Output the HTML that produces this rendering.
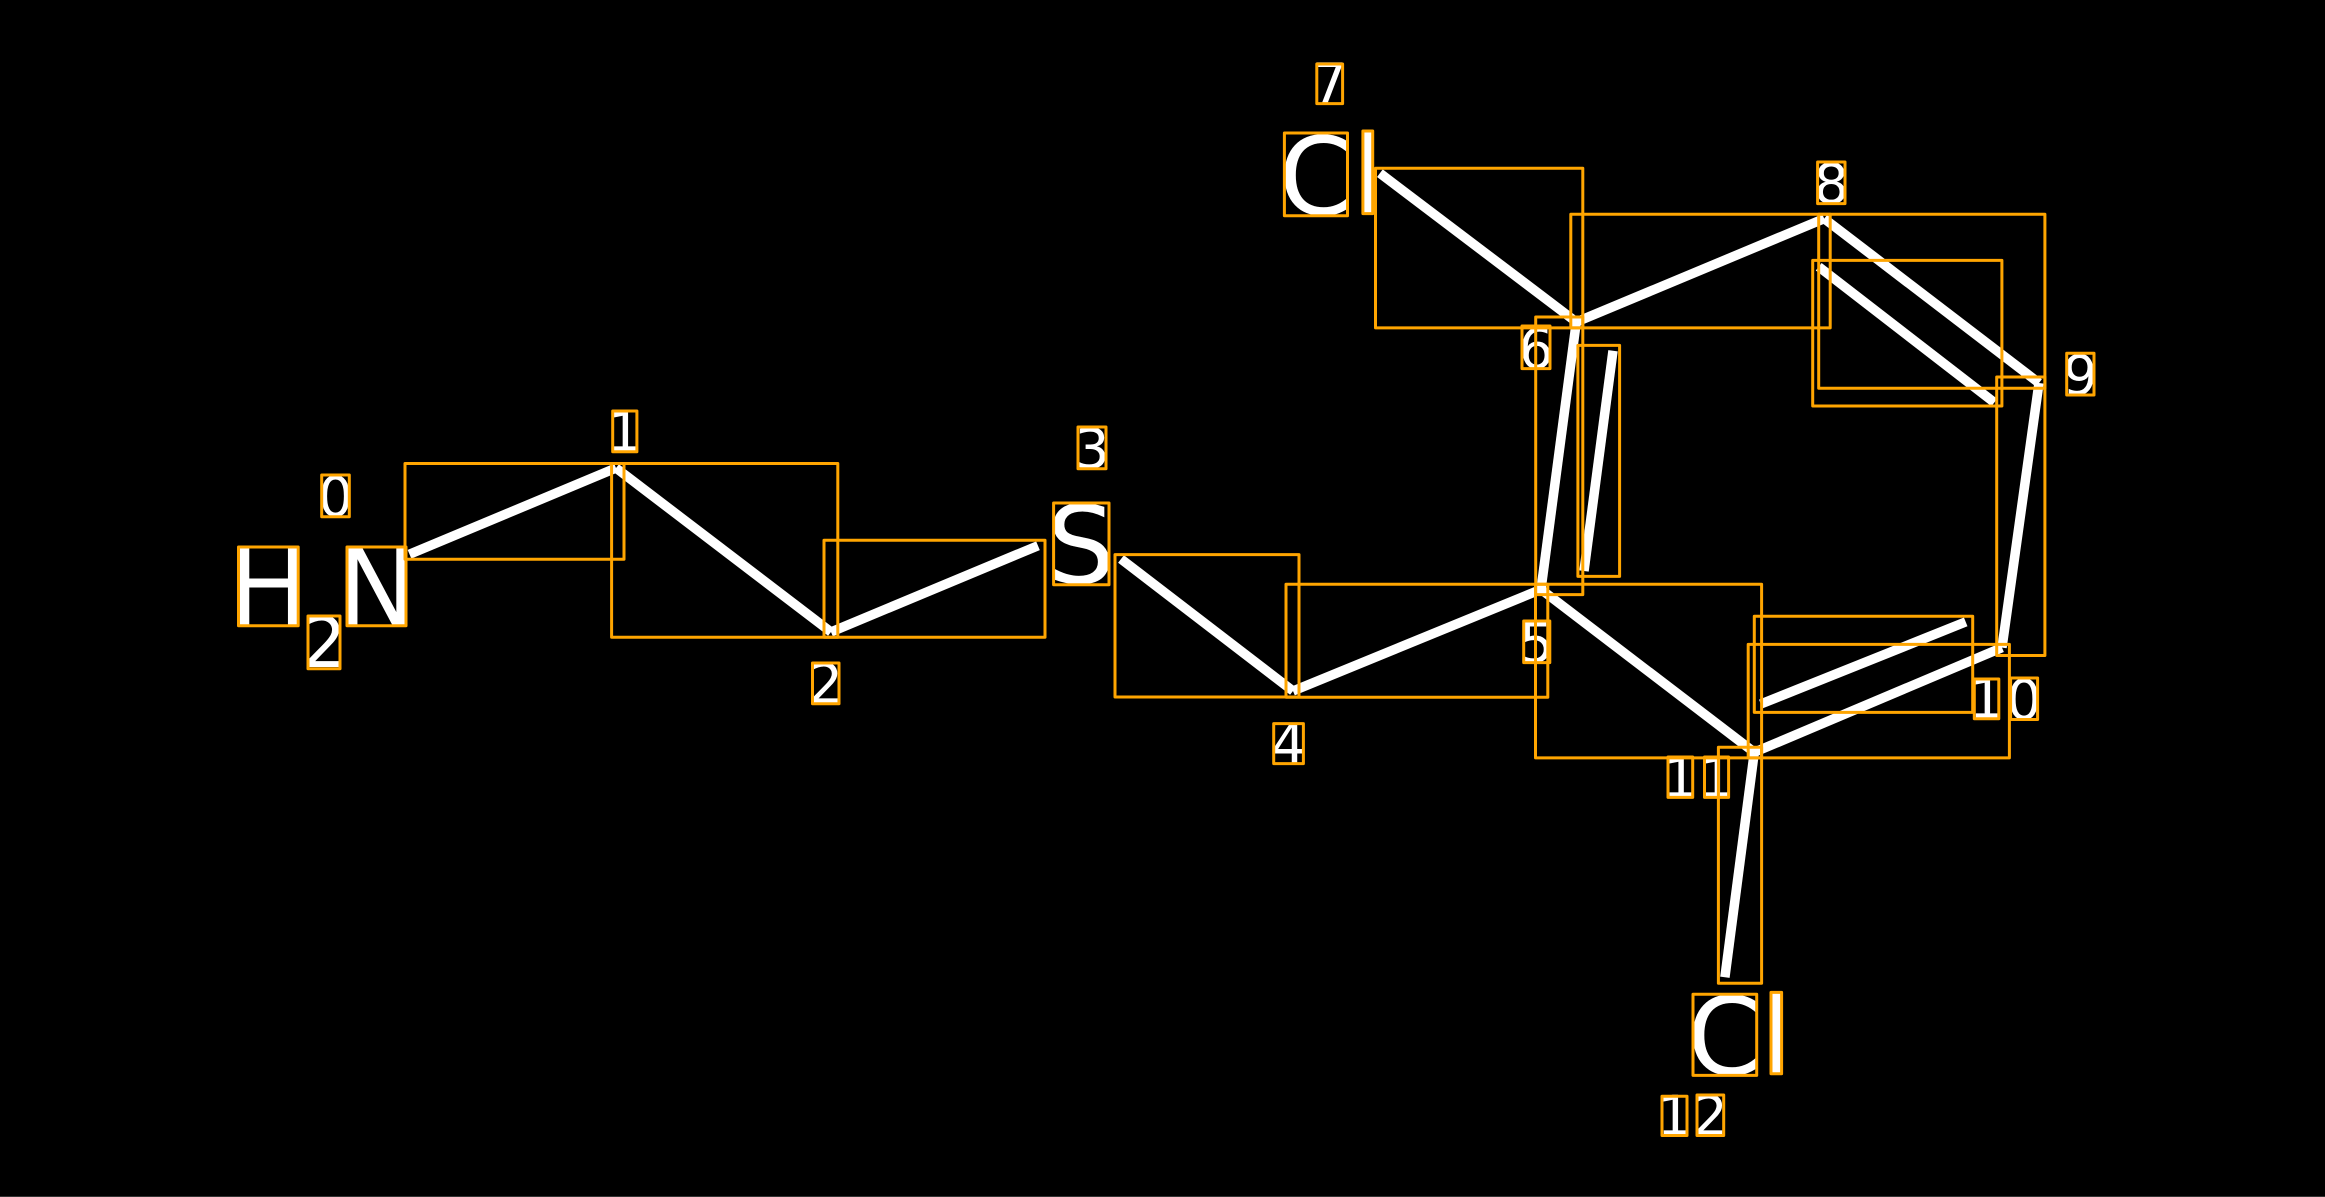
<!DOCTYPE html>
<html><head><meta charset="utf-8"><style>
html,body{margin:0;padding:0;background:#000;width:2325px;height:1197px;overflow:hidden}
svg{display:block}
text{font-family:"DejaVu Sans",sans-serif;fill:#fff}
.b{font-size:108px}.s{font-size:55px;text-anchor:middle}.m{font-size:70px;text-anchor:middle}
line{stroke:#fff;stroke-width:9.5}
rect{fill:none;stroke:#ffa500;stroke-width:3;stroke-linejoin:round}
</style></head><body>
<svg width="2325" height="1197" viewBox="0 0 2325 1197" xmlns="http://www.w3.org/2000/svg">
<rect x="0" y="0" width="2325" height="1197" style="fill:#000;stroke:none"/>
<line x1="0" y1="1196.5" x2="2325" y2="1196.5" style="stroke:#333;stroke-width:1"/>
<!-- atoms -->
<text class="b" x="228" y="625">H</text>
<text class="b" x="336.500" y="625">N</text>
<text class="m" x="324" y="667">2</text>
<text class="b" x="1046.500" y="583">S</text>
<text class="b" x="1278.500" y="214.500">C</text>
<text class="b" x="1352.800" y="213.500">l</text>
<text class="b" x="1687" y="1074.500">C</text>
<text class="b" x="1761" y="1073.500">l</text>
<!-- indices -->
<text class="s" x="335.500" y="516">0</text>
<text class="s" x="624.500" y="451">1</text>
<text class="s" x="825.500" y="703">2</text>
<text class="s" x="1092" y="468">3</text>
<text class="s" x="1288.500" y="763">4</text>
<text class="s" x="1536.500" y="662">5</text>
<text class="s" x="1536" y="368">6</text>
<text class="s" x="1329.500" y="103">7</text>
<text class="s" x="1831.300" y="203">8</text>
<text class="s" x="2080.300" y="394.500">9</text>
<text class="s" x="1986.500" y="718">1</text>
<text class="s" x="2024" y="719">0</text>
<text class="s" x="1680.300" y="797">1</text>
<text class="s" x="1716.500" y="797">1</text>
<text class="s" x="1674.500" y="1135">1</text>
<text class="s" x="1710.300" y="1135">2</text>
<!-- bonds -->
<line x1="409.500" y1="554.300" x2="616" y2="468"/>
<line x1="616" y1="468" x2="831" y2="632"/>
<line x1="831" y1="632" x2="1038" y2="545.700"/>
<line x1="1121" y1="559" x2="1293" y2="691"/>
<line x1="1293" y1="691" x2="1541" y2="589.400"/>
<line x1="1541" y1="589.400" x2="1754.300" y2="752.300"/>
<line x1="1541" y1="589.400" x2="1576.300" y2="322"/>
<line x1="1584" y1="571" x2="1613" y2="350.700"/>
<line x1="1379.900" y1="173.200" x2="1576.300" y2="322"/>
<line x1="1576.300" y1="322" x2="1824.200" y2="218.600"/>
<line x1="1824.200" y1="218.600" x2="2039" y2="383"/>
<line x1="1818.700" y1="266.800" x2="1994.300" y2="402.500"/>
<line x1="2039" y1="383" x2="2002" y2="647.600"/>
<line x1="2002" y1="647.600" x2="1754.300" y2="752.300"/>
<line x1="1965.700" y1="621.900" x2="1760.800" y2="704"/>
<line x1="1754.300" y1="752.300" x2="1724.900" y2="977.300"/>
<!-- bond boxes -->
<rect x="405" y="463.500" width="219" height="95.800"/>
<rect x="611.600" y="463.500" width="226.200" height="173.800"/>
<rect x="824" y="540.300" width="221" height="97"/>
<rect x="1115" y="554.600" width="184" height="142.400"/>
<rect x="1286" y="584.300" width="261.800" height="113"/>
<rect x="1535.500" y="584.300" width="226.100" height="173.600"/>
<rect x="1535.700" y="317" width="47.100" height="277.600"/>
<rect x="1577.900" y="345.400" width="41.700" height="231"/>
<rect x="1375.500" y="168.200" width="207.300" height="159.700"/>
<rect x="1570.800" y="214.300" width="259.400" height="113.600"/>
<rect x="1818.700" y="214.300" width="226.200" height="173.900"/>
<rect x="1812.700" y="260.400" width="189.200" height="145.600"/>
<rect x="1996.700" y="377" width="48.200" height="278.500"/>
<rect x="1748.200" y="644.400" width="261.200" height="113.500"/>
<rect x="1754.300" y="616.300" width="218.400" height="96.100"/>
<rect x="1718.400" y="747.200" width="43.200" height="236.100"/>
<!-- atom boxes -->
<rect x="238.500" y="547" width="59.700" height="78.700"/>
<rect x="347" y="547" width="59" height="78.700"/>
<rect x="308" y="616" width="32" height="52.700"/>
<rect x="1053.600" y="503" width="55.400" height="81.700"/>
<rect x="1284.400" y="133" width="63.100" height="82.700"/>
<rect x="1362.900" y="131" width="9.800" height="82.600"/>
<rect x="1693" y="994.300" width="63.700" height="81.100"/>
<rect x="1771" y="992.400" width="10.600" height="81.400"/>
<!-- index boxes -->
<rect x="321.700" y="475" width="27.600" height="41.700"/>
<rect x="612.700" y="411" width="24.200" height="40.700"/>
<rect x="812.500" y="663" width="26.500" height="40.700"/>
<rect x="1078" y="427" width="28" height="41.700"/>
<rect x="1273.700" y="723.600" width="29.700" height="40"/>
<rect x="1523.700" y="621" width="26.100" height="41.600"/>
<rect x="1522" y="326" width="28" height="42.600"/>
<rect x="1316.800" y="64" width="25.800" height="39.600"/>
<rect x="1817.600" y="162" width="27.400" height="41.600"/>
<rect x="2066.700" y="353.200" width="27.300" height="41.800"/>
<rect x="1974.300" y="679" width="24.500" height="39.700"/>
<rect x="2010.600" y="678" width="27" height="41.500"/>
<rect x="1668" y="757" width="24.700" height="40.400"/>
<rect x="1704.500" y="757" width="24.100" height="40.400"/>
<rect x="1662" y="1096.300" width="25" height="39.200"/>
<rect x="1697" y="1095" width="26.700" height="40.500"/>
</svg>
</body></html>
